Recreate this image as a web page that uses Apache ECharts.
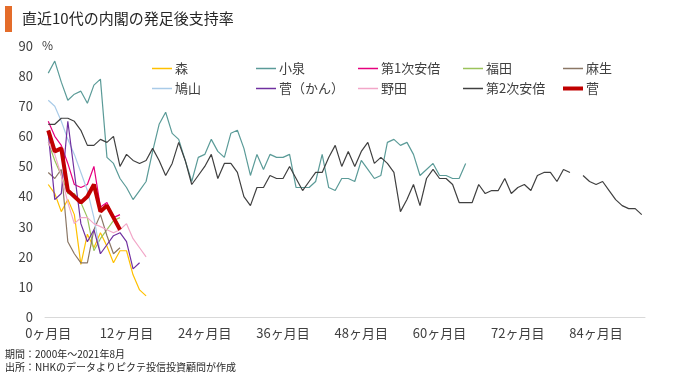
<!DOCTYPE html>
<html>
<head>
<meta charset="utf-8">
<script src="https://cdn.jsdelivr.net/npm/echarts@6/dist/echarts.min.js"></script>
<style>
  html, body { margin: 0; padding: 0; background: #fff; }
  #chart { width: 680px; height: 376px; }
</style>
</head>
<body>
<div id="chart"></div>
<script>
// months since each cabinet started (0..91)
const months = Array.from({ length: 92 }, (_, i) => i + 'ヶ月目');
const yTicks = [0, 10, 20, 30, 40, 50, 60, 70, 80, 90];

// approval rate (%) per month
const mori = [44, 41, 35, 39, 34, 17.5, 27.5, 23, 28, 23.5, 18, 22, 22, 14, 9, 7];
const koizumi = [81, 85, 78, 72, 74, 75, 71, 77, 79, 53, 51, 46, 43, 39, 42, 45,
  55, 64, 68, 61, 59, 52, 45, 53, 54, 59, 55, 53, 61, 62, 56, 47, 54, 49, 54, 53,
  53, 54, 43, 43, 43, 45, 54, 43, 42, 46, 46, 45, 52, 49, 46, 47, 58, 59, 57, 58,
  54, 47, 49, 51, 47, 47, 46, 46, 51];
const abe1 = [65, 60, 57, 51, 44, 43, 44, 50, 36.5, 38, 33, 34];
const fukuda = [58, 52, 47, 41, 41, 38, 33, 22, 26, 29, 32, 33];
const aso = [48, 46, 49, 25, 21, 18, 18, 29, 34, 27, 21, 23];
const hatoyama = [72, 70, 65, 59, 54, 48, 42, 33, 21];
const kan = [61, 39, 41, 65, 48, 31, 25, 29, 21, 24, 27, 28, 25, 16, 18];
const noda = [58, 54, 47, 38, 31, 33, 33, 31, 30, 29, 28, 29, 31, 26, 23, 20];
const abe2 = [64, 64, 66, 66, 65, 62, 57, 57, 59, 58, 60, 50, 54, 52, 51, 52,
  56, 52, 47, 51, 58, 52, 44, 47, 50, 54, 46, 51, 51, 48, 40, 37, 43, 43, 47, 46,
  46, 50, 46, 42, 45, 48, 48, 53, 57, 50, 55, 50, 55, 58, 51, 53, 51, 48, 35, 39,
  44, 37, 46, 49, 46, 46, 44, 38, 38, 38, 44, 41, 42, 42, 46, 41, 43, 44, 42, 47,
  48, 48, 45, 49, 48, null, 47, 45, 44, 45, 42, 39, 37, 36, 36, 34];
const suga = [62, 55, 56, 42, 40, 38, 40, 44, 35, 37, 33, 29];

const names = ['森', '小泉', '第1次安倍', '福田', '麻生', '鳩山', '菅（かん）', '野田', '第2次安倍', '菅'];
const values = [mori, koizumi, abe1, fukuda, aso, hatoyama, kan, noda, abe2, suga];
const colors = ['#ffc000', '#5b9b98', '#e6007e', '#9bc35a', '#8b7765', '#a9cbe8', '#7030a0', '#f2a7c8', '#404040', '#c00000'];
const widths = [1.2, 1.2, 1.2, 1.2, 1.2, 1.2, 1.2, 1.2, 1.2, 4];

// legend grid: 5 columns x 2 rows
const legendLeft = [152, 256, 358, 463, 563];
const legendTop = [62, 82];

const font = '"Noto Sans CJK JP", "Noto Sans", sans-serif';
const chart = echarts.init(document.getElementById('chart'));

chart.setOption({
  animation: false,
  textStyle: { fontFamily: font },
  grid: { left: 45, right: 35, top: 46, bottom: 59 },
  legend: names.map((n, i) => ({
    data: [n],
    left: legendLeft[i % 5],
    top: legendTop[Math.floor(i / 5)],
    padding: 0,
    icon: 'rect',
    itemWidth: 20,
    itemHeight: i === names.length - 1 ? 4 : 1.5,
    textStyle: { fontSize: 13, color: '#404040', padding: [0, 0, 0, -2] }
  })),
  xAxis: {
    type: 'category',
    data: months,
    boundaryGap: true,
    axisLine: { lineStyle: { color: '#d9d9d9' } },
    axisTick: { show: false },
    axisLabel: { interval: 11, color: '#404040', fontSize: 13, margin: 10 }
  },
  yAxis: {
    type: 'value',
    min: yTicks[0],
    max: yTicks[yTicks.length - 1],
    interval: 10,
    splitLine: { show: false },
    axisLine: { show: false },
    axisTick: { show: false },
    axisLabel: { color: '#404040', fontSize: 13, margin: 12 }
  },
  series: names.map((n, i) => ({
    name: n,
    type: 'line',
    data: values[i],
    symbol: 'none',
    color: colors[i],
    lineStyle: { width: widths[i], color: colors[i] },
    connectNulls: false,
    z: i === names.length - 1 ? 5 : 2
  })),
  graphic: [
    { type: 'rect', left: 5, top: 6, shape: { width: 7, height: 26 }, style: { fill: '#e46c2a' } },
    { type: 'text', left: 22, top: 11, style: { text: '直近10代の内閣の発足後支持率', fontSize: 15, fill: '#262626', fontFamily: font } },
    { type: 'text', left: 42, top: 39, style: { text: '%', fontSize: 12, fill: '#404040', fontFamily: font } },
    { type: 'text', left: 5, top: 349, style: { text: '期間：2000年～2021年8月', fontSize: 10, fill: '#262626', fontFamily: font } },
    { type: 'text', left: 5, top: 362, style: { text: '出所：NHKのデータよりピクテ投信投資顧問が作成', fontSize: 10, fill: '#262626', fontFamily: font } }
  ]
});
</script>
</body>
</html>
